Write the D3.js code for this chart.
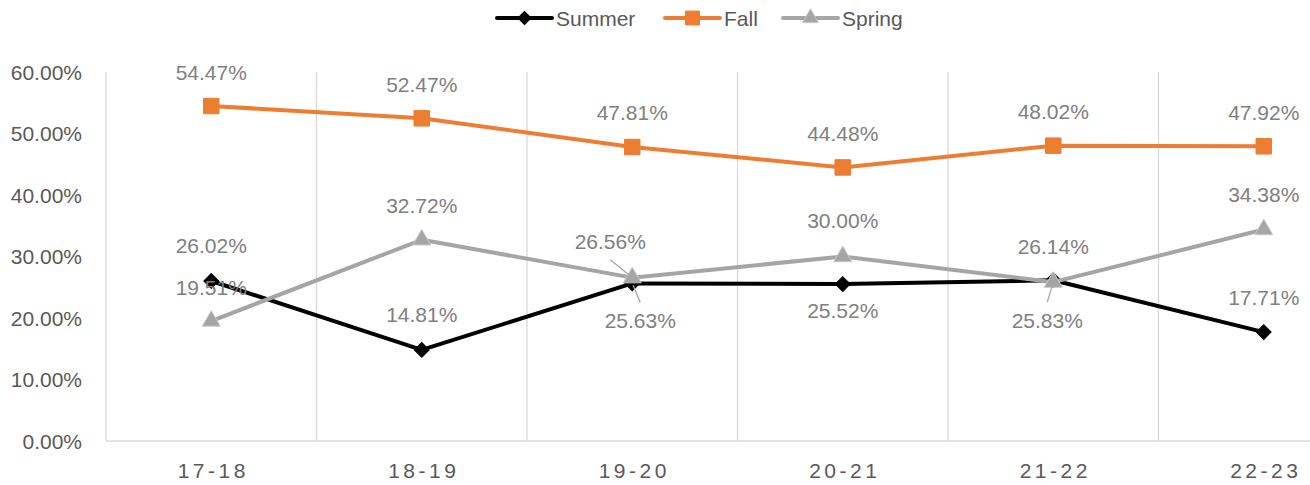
<!DOCTYPE html>
<html>
<head>
<meta charset="UTF-8">
<title>Summer / Fall / Spring</title>
<style>
  body { margin: 0; background: #fff; }
  text { font-family: "Liberation Sans", Arial, sans-serif; }
</style>
</head>
<body>
<script src="https://d3js.org/d3.v7.min.js"></script>
<script>
// data
var years = ["17-18", "18-19", "19-20", "20-21", "21-22", "22-23"];
var summer = [26.02, 14.81, 25.63, 25.52, 26.14, 17.71];
var fall = [54.47, 52.47, 47.81, 44.48, 48.02, 47.92];
var spring = [19.51, 32.72, 26.56, 30.00, 25.83, 34.38];
var yTicks = [0, 10, 20, 30, 40, 50, 60];

// label placement (px offsets from the point)
var summerLabelDy = [-35, -35, 37, 26, -34, -35];
var summerLabelDx = [0, 0, 8, 0, 0, 0];
var fallLabelDy = [-34, -34, -34, -34, -34, -34];
var fallLabelDx = [0, 0, 0, 0, 0, 0];
var springLabelDy = [-34, -34, -36, -36, 38, -35];
var springLabelDx = [0, 0, -22, 0, -6, 0];
var springLeaders = [false, false, true, false, true, false];
var summerLeaders = [false, false, true, false, false, false];

var width = 1310, height = 485;
var svg = d3.select("body").append("svg")
    .attr("width", width)
    .attr("height", height);

var plotLeft = 106, plotTop = 72, plotBottom = 441;
var bandW = 210.5;
var fontSize = "21px";

var x = d3.scaleBand()
    .domain(years)
    .range([plotLeft, plotLeft + bandW * years.length])
    .paddingInner(0).paddingOuter(0);
var y = d3.scaleLinear().domain([0, 60]).range([plotBottom, plotTop]);
function cx(d) { return x(d) + x.bandwidth() / 2; }

// vertical gridlines at category edges
svg.append("g").selectAll("line")
    .data(years)
    .enter().append("line")
    .attr("x1", function(d) { return x(d); })
    .attr("x2", function(d) { return x(d); })
    .attr("y1", plotTop)
    .attr("y2", plotBottom)
    .style("stroke", "#d9d9d9")
    .style("stroke-width", 1.3);

// x axis line
svg.append("line")
    .attr("x1", plotLeft).attr("x2", width)
    .attr("y1", plotBottom).attr("y2", plotBottom)
    .style("stroke", "#d9d9d9")
    .style("stroke-width", 1.3);

// y tick labels
svg.append("g").selectAll("text")
    .data(yTicks)
    .enter().append("text")
    .attr("x", 82)
    .attr("y", function(d) { return y(d); })
    .attr("dominant-baseline", "central")
    .style("text-anchor", "end")
    .style("font-size", fontSize)
    .style("fill", "#595959")
    .text(function(d) { return d3.format(".2f")(d) + "%"; });

// x tick labels
svg.append("g").selectAll("text")
    .data(years)
    .enter().append("text")
    .attr("x", function(d) { return cx(d) + 2; })
    .attr("y", 470)
    .attr("dominant-baseline", "central")
    .style("text-anchor", "middle")
    .style("font-size", fontSize)
    .style("letter-spacing", "3.5px")
    .style("fill", "#595959")
    .text(function(d) { return d; });

// diamond = square turned 45 degrees
var series = [
  {name: "Summer", values: summer, color: "#000000", marker: d3.symbolSquare, rot: 45, size: 110, stroke: "#000000", dy: summerLabelDy, dx: summerLabelDx, leaders: summerLeaders},
  {name: "Fall", values: fall, color: "#ed7d31", marker: d3.symbolSquare, rot: 0, size: 240, stroke: "#ed7d31", dy: fallLabelDy, dx: fallLabelDx, leaders: [false, false, false, false, false, false]},
  {name: "Spring", values: spring, color: "#a5a5a5", marker: d3.symbolTriangle, rot: 0, size: 140, stroke: "#c9c9c9", dy: springLabelDy, dx: springLabelDx, leaders: springLeaders}
];

var line = d3.line()
    .x(function(d, i) { return cx(years[i]); })
    .y(function(d) { return y(d); });

series.forEach(function(s) {
  var g = svg.append("g");
  g.append("path")
      .datum(s.values)
      .attr("d", line)
      .style("fill", "none")
      .style("stroke", s.color)
      .style("stroke-width", 4)
      .style("stroke-linejoin", "round");

  g.selectAll("path.mk")
      .data(s.values)
      .enter().append("path")
      .attr("class", "mk")
      .attr("d", d3.symbol().type(s.marker).size(s.size))
      .attr("transform", function(d, i) { return "translate(" + cx(years[i]) + "," + y(d) + ") rotate(" + s.rot + ")"; })
      .style("fill", s.color)
      .style("stroke", s.stroke)
      .style("stroke-width", 1);
});

// data labels drawn after all series
series.forEach(function(s) {
  var g = svg.append("g");
  s.values.forEach(function(v, i) {
    var px = cx(years[i]), py = y(v);
    var lx = px + s.dx[i], ly = py + s.dy[i];
    if (s.leaders[i]) {
      var dirY = s.dy[i] < 0 ? 1 : -1;
      var ex = lx, ey = ly + dirY * 18;
      g.append("line")
          .attr("x1", ex).attr("y1", ey)
          .attr("x2", px + (ex - px) * 0.1).attr("y2", py + (ey - py) * 0.1)
          .style("stroke", "#a5a5a5")
          .style("stroke-width", 1.3);
    }
    g.append("text")
        .attr("x", lx)
        .attr("y", ly)
        .attr("dominant-baseline", "central")
        .style("text-anchor", "middle")
        .style("font-size", fontSize)
        .style("fill", "#808080")
        .text(d3.format(".2f")(v) + "%");
  });
});

// legend
var legendX = [497, 665, 783];
var legend = svg.append("g");
series.forEach(function(s, i) {
  var lg = legend.append("g").attr("transform", "translate(" + legendX[i] + ",18)");
  lg.append("line")
      .attr("x1", 0).attr("x2", 55)
      .attr("y1", 0).attr("y2", 0)
      .style("stroke", s.color)
      .style("stroke-width", 4)
      .style("stroke-linecap", "round");
  lg.append("path")
      .attr("d", d3.symbol().type(s.marker).size(s.size * 0.8))
      .attr("transform", "translate(27.5,0) rotate(" + s.rot + ")")
      .style("fill", s.color)
      .style("stroke", s.stroke);
  lg.append("text")
      .attr("x", 59)
      .attr("y", 0)
      .attr("dominant-baseline", "central")
      .style("font-size", fontSize)
      .style("fill", "#595959")
      .text(s.name);
});
</script>
</body>
</html>
